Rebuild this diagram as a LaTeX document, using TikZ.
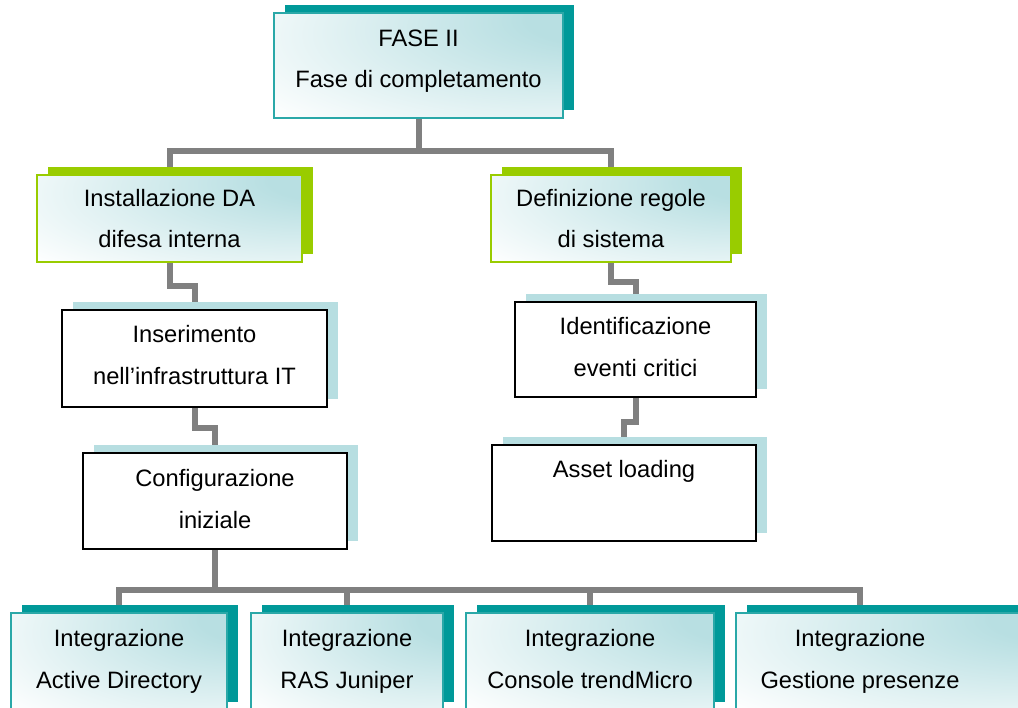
\documentclass[tikz,border=0pt]{standalone}
\usepackage{fontspec}
\setmainfont{Liberation Sans}
\usetikzlibrary{shadows,backgrounds}

\definecolor{tealc}{HTML}{009999}
\definecolor{tealedge}{HTML}{2AA8A8}
\definecolor{greenc}{HTML}{99CC00}
\definecolor{lightc}{HTML}{B7DEE1}
\definecolor{glowc}{HTML}{B8DFE2}
\definecolor{grayc}{HTML}{808080}

% soft cyan glow towards the upper right corner of a box
\pgfdeclareradialshading{glow}{\pgfpoint{35bp}{25bp}}{color(0bp)=(glowc); color(12bp)=(glowc); color(55bp)=(white); color(100bp)=(white)}

\tikzset{
  box/.style={inner sep=0pt, outer sep=0pt},
  tealbox/.style={box, draw=tealedge, line width=1.5pt, shade, shading=glow,
    general shadow={fill=tealc, shadow xshift=11pt, shadow yshift=8pt}},
  greenbox/.style={box, draw=greenc, line width=1.5pt, shade, shading=glow,
    general shadow={fill=greenc, shadow xshift=11pt, shadow yshift=8pt}},
  plainbox/.style={box, draw=black, line width=1.5pt, fill=white,
    general shadow={fill=lightc, shadow xshift=11pt, shadow yshift=8pt}},
  lbl/.style={anchor=base, inner sep=0pt, font=\fontsize{23.7}{28}\selectfont},
  conn/.style={draw=grayc, line width=6pt},
}

\begin{document}
\begin{tikzpicture}[x=1pt,y=-1pt]
\useasboundingbox (0,0) rectangle (1018,708);

% boxes
\node[tealbox, minimum width=289pt, minimum height=105pt] (fase) at (418.5,65.5) {};
\node[greenbox, minimum width=265pt, minimum height=87pt] (inst) at (169.5,218.5) {};
\node[greenbox, minimum width=240pt, minimum height=87pt] (defn) at (611,218.5) {};
\node[plainbox, minimum width=265pt, minimum height=97pt] (inser) at (194.5,358.5) {};
\node[plainbox, minimum width=241pt, minimum height=95pt] (ident) at (635.5,349.5) {};
\node[plainbox, minimum width=264pt, minimum height=96pt] (config) at (215,501) {};
\node[plainbox, minimum width=264pt, minimum height=96pt] (asset) at (624,493) {};
\node[tealbox, minimum width=216pt, minimum height=97pt] (ad) at (119,661.5) {};
\node[tealbox, minimum width=192pt, minimum height=97pt] (ras) at (347,661.5) {};
\node[tealbox, minimum width=248pt, minimum height=97pt] (trend) at (590,661.5) {};
\node[tealbox, minimum width=290pt, minimum height=97pt] (pres) at (881,661.5) {};

% labels
\path (fase.north) ++(0,34) node[lbl]{FASE II} ++(0,41) node[lbl]{Fase di completamento};
\path (inst.north) ++(0,32) node[lbl]{Installazione DA} ++(0,41) node[lbl]{difesa interna};
\path (defn.north) ++(0,32) node[lbl]{Definizione regole} ++(0,41) node[lbl]{di sistema};
\path (inser.north) ++(0,33) node[lbl]{Inserimento} ++(0,42) node[lbl]{nell’infrastruttura IT};
\path (ident.north) ++(0,33) node[lbl]{Identificazione} ++(0,42) node[lbl]{eventi critici};
\path (config.north) ++(0,34) node[lbl]{Configurazione} ++(0,42) node[lbl]{iniziale};
\path (asset.north) ++(0,33) node[lbl]{Asset loading};
\path (ad.north) ++(0,33) node[lbl]{Integrazione} ++(0,42) node[lbl]{Active Directory};
\path (ras.north) ++(0,33) node[lbl]{Integrazione} ++(0,42) node[lbl]{RAS Juniper};
\path (trend.north) ++(0,33) node[lbl]{Integrazione} ++(0,42) node[lbl]{Console trendMicro};
\path ([xshift=-21pt]pres.north) ++(0,33) node[lbl]{Integrazione} ++(0,42) node[lbl]{Gestione presenze};

% connectors behind the boxes
\begin{scope}[on background layer]
  \fill[white] (0,0) rectangle (1018,708);
  \draw[conn] (fase.south) -- ++(0,33) -| (inst.north);
  \draw[conn] (fase.south) -- ++(0,33) -| (defn.north);
  \draw[conn] (inst.south) -- ++(0,24) -| (inser.north);
  \draw[conn] (inser.south) -- ++(0,21) -| (config.north);
  \draw[conn] (defn.south) -- ++(0,20) -| (ident.north);
  \draw[conn] (ident.south) -- ++(0,25) -| (asset.north);
  \draw[conn] (config.south) -- ++(0,41) -| (ad.north);
  \draw[conn] (config.south) -- ++(0,41) -| (ras.north);
  \draw[conn] (config.south) -- ++(0,41) -| (trend.north);
  \draw[conn] (config.south) -- ++(0,41) -| ([xshift=-21pt]pres.north);
\end{scope}
\end{tikzpicture}
\end{document}
